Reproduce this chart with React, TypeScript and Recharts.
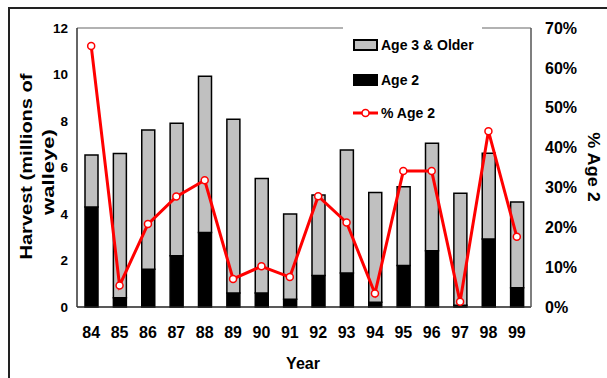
import { ComposedChart, Bar, Line, XAxis, YAxis, Legend, ReferenceLine } from "recharts"

const years = ["84", "85", "86", "87", "88", "89", "90", "91", "92", "93", "94", "95", "96", "97", "98", "99"]
// millions of walleye
const age2 = [4.3, 0.4, 1.62, 2.2, 3.2, 0.6, 0.6, 0.33, 1.35, 1.46, 0.2, 1.79, 2.42, 0.08, 2.92, 0.83]
const totalHarvest = [6.54, 6.6, 7.61, 7.9, 9.92, 8.07, 5.53, 4.0, 4.82, 6.75, 4.92, 5.17, 7.04, 4.89, 6.61, 4.52]
const pctAge2 = [65.5, 5.4, 20.8, 27.7, 31.8, 7.05, 10.2, 7.5, 27.8, 21.2, 3.4, 34.1, 34.1, 1.3, 44.1, 17.6]
const leftTicks = [0, 2, 4, 6, 8, 10, 12]
const rightTicks = [0, 10, 20, 30, 40, 50, 60, 70]

const data = years.map((y, i) => ({
  year: y,
  age2: age2[i],
  age3: +(totalHarvest[i] - age2[i]).toFixed(2),
  pct: pctAge2[i],
}))

const font = "'Liberation Sans', Arial, sans-serif"

function LegendBox() {
  const row = (top: number, icon: React.ReactNode, label: string) => (
    <div style={{ position: "absolute", left: 10, top: top - 8, height: 16, display: "flex", alignItems: "center" }}>
      <div style={{ width: 25, height: 12, display: "flex", alignItems: "center" }}>{icon}</div>
      <span style={{ marginLeft: 3, fontSize: 14, fontWeight: "bold", fontFamily: font, color: "#000", whiteSpace: "nowrap" }}>{label}</span>
    </div>
  )
  return (
    <div style={{ position: "relative", width: 139, height: 102, background: "#fff" }}>
      {row(21, <div style={{ width: 21, height: 8, background: "#c0c0c0", border: "2px solid #000" }} />, "Age 3 & Older")}
      {row(56, <div style={{ width: 25, height: 12, background: "#000" }} />, "Age 2")}
      {row(89,
        <svg width={25} height={12}>
          <line x1={0} y1={6} x2={25} y2={6} stroke="#ff0000" strokeWidth={3} />
          <circle cx={12.5} cy={6} r={3.5} fill="#fff" stroke="#ff0000" strokeWidth={1.5} />
        </svg>,
        "% Age 2")}
    </div>
  )
}

export default function App() {
  return (
    <div style={{ position: "relative", width: 607, height: 378, overflow: "hidden" }}>
      <style>{`html,body{margin:0;overflow:hidden}`}</style>
      <div style={{ position: "absolute", left: 8, top: 7, width: 700, height: 500, borderLeft: "2px solid #222", borderTop: "2px solid #222" }} />
      <ComposedChart width={607} height={378} data={data} margin={{ top: 28, right: 0, bottom: 0, left: 0 }} barCategoryGap={0}>
        <XAxis
          dataKey="year"
          height={71}
          tickSize={0}
          tickMargin={20}
          axisLine={{ stroke: "#222", strokeWidth: 1.5 }}
          tick={{ fontSize: 16, fontWeight: "bold", fill: "#000", fontFamily: font }}
          interval={0}
        />
        <YAxis
          yAxisId="left"
          width={77}
          domain={[0, 12]}
          ticks={leftTicks}
          tickSize={0}
          tickMargin={9}
          axisLine={{ stroke: "#333", strokeWidth: 1.5 }}
          tick={{ fontSize: 13.5, fontWeight: "bold", fill: "#000", fontFamily: font }}
        />
        <YAxis
          yAxisId="right"
          orientation="right"
          width={76}
          domain={[0, 70]}
          ticks={rightTicks}
          tickSize={0}
          tickMargin={14}
          tickFormatter={(v) => `${v}%`}
          axisLine={{ stroke: "#555", strokeWidth: 1.5 }}
          tick={{ fontSize: 16, fontWeight: "bold", fill: "#000", fontFamily: font, textAnchor: "start" }}
        />
        <ReferenceLine yAxisId="left" y={12} stroke="#999" strokeWidth={1.5} />
        <Bar yAxisId="left" dataKey="age2" name="Age 2" stackId="h" fill="#000" stroke="#000" strokeWidth={1.5} barSize={13} isAnimationActive={false} />
        <Bar yAxisId="left" dataKey="age3" name="Age 3 & Older" stackId="h" fill="#c0c0c0" stroke="#000" strokeWidth={1.5} barSize={13} isAnimationActive={false} />
        <Line
          yAxisId="right"
          dataKey="pct"
          name="% Age 2"
          stroke="#ff0000"
          strokeWidth={3}
          dot={{ r: 3.5, fill: "#fff", stroke: "#ff0000", strokeWidth: 1.5 }}
          activeDot={false}
          isAnimationActive={false}
        />
        <Legend
          layout="vertical"
          align="center"
          verticalAlign="middle"
          content={() => <LegendBox />}
          wrapperStyle={{ left: 343, top: 24, width: 139, height: 102 }}
        />
        <text x={0} y={0} transform="translate(26 166.5) rotate(-90) scale(1.18 1)" textAnchor="middle" dominantBaseline="central" fontSize={17} fontWeight="bold" fontFamily={font} fill="#000">
          Harvest (millions of
        </text>
        <text x={0} y={0} transform="translate(48 172) rotate(-90) scale(1.3 1)" textAnchor="middle" dominantBaseline="central" fontSize={17} fontWeight="bold" fontFamily={font} fill="#000">
          walleye)
        </text>
        <text x={0} y={0} transform="translate(593 167) rotate(90) scale(1.13 1)" textAnchor="middle" dominantBaseline="central" fontSize={16} fontWeight="bold" fontFamily={font} fill="#000">
          % Age 2
        </text>
        <text x={303} y={363} textAnchor="middle" dominantBaseline="central" fontSize={16} fontWeight="bold" fontFamily={font} fill="#000">
          Year
        </text>
      </ComposedChart>
    </div>
  )
}
